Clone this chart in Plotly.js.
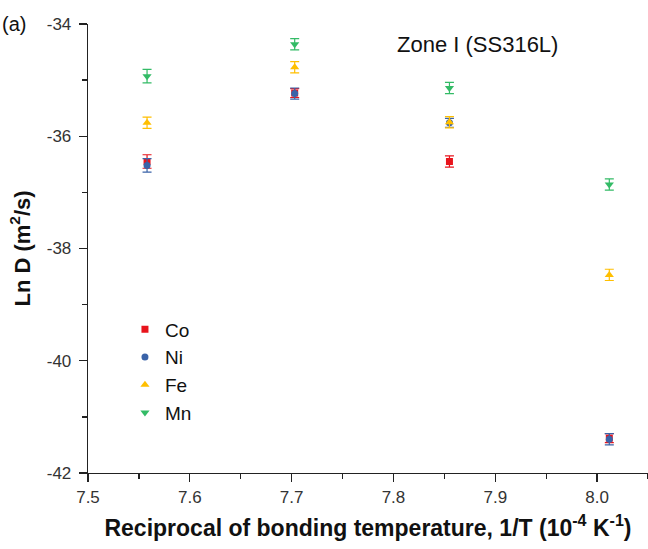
<!DOCTYPE html>
<html>
<head>
<meta charset="utf-8">
<script src="https://cdn.plot.ly/plotly-3.0.1.min.js"></script>
<style>html,body{margin:0;padding:0;background:#fff;}#chart{width:648px;height:549px;}</style>
</head>
<body>
<div id="chart"></div>
<script>
// Reciprocal of bonding temperature (10^-4 K^-1)
const invT = [7.558, 7.703, 7.855, 8.012];
// Ln D (m^2/s)
const coLnD = [-36.45, -35.23, -36.45, -41.38];
const coErr = [0.12, 0.08, 0.1, 0.08];
const niLnD = [-36.52, -35.24, -35.76, -41.40];
const niErr = [0.12, 0.1, 0.08, 0.1];
const feLnD = [-35.76, -34.77, -35.75, -38.47];
const feErr = [0.1, 0.1, 0.1, 0.1];
const mnLnD = [-34.93, -34.36, -35.14, -36.86];
const mnErr = [0.12, 0.1, 0.1, 0.1];
const seriesNames = ["Co", "Ni", "Fe", "Mn"];
const xTickVals = [7.5, 7.6, 7.7, 7.8, 7.9, 8.0];
const xTickText = ["7.5", "7.6", "7.7", "7.8", "7.9", "8.0"];
const yTickVals = [-42, -40, -38, -36, -34];
const yTickText = ["-42", "-40", "-38", "-36", "-34"];

const FONT = "Liberation Sans, Arial, sans-serif";
function tr(name, y, err, color, symbol, size) {
  return {
    type: "scatter", mode: "markers", name: name, x: invT, y: y,
    marker: {color: color, symbol: symbol, size: size, line: {width: 0}},
    error_y: {type: "data", array: err, visible: true, color: color, thickness: 1.2, width: 4.5}
  };
}
const data = [
  tr(seriesNames[0], coLnD, coErr, "#e8141c", "square", 7),
  tr(seriesNames[1], niLnD, niErr, "#3a63a8", "circle", 7),
  tr(seriesNames[2], feLnD, feErr, "#ffbf00", "triangle-up", 8),
  tr(seriesNames[3], mnLnD, mnErr, "#33bb66", "triangle-down", 8)
];
const layout = {
  width: 648, height: 549,
  margin: {l: 88, r: 0, t: 24, b: 76},
  paper_bgcolor: "#fff", plot_bgcolor: "#fff",
  font: {family: FONT, color: "#222"},
  showlegend: true,
  legend: {x: 0.066, y: 0.362, xanchor: "left", yanchor: "top",
           font: {family: FONT, size: 19, color: "#111"},
           bgcolor: "rgba(0,0,0,0)", tracegroupgap: 0, itemsizing: "trace"},
  xaxis: {
    range: [7.5, 8.05], showgrid: false, zeroline: false,
    showline: true, linecolor: "#222", linewidth: 1.3,
    ticks: "outside", ticklen: 8, tickwidth: 1.3, tickcolor: "#222",
    tickvals: xTickVals, ticktext: xTickText,
    tickfont: {family: FONT, size: 17, color: "#333"},
    minor: {dtick: 0.05, tick0: 7.5, ticks: "outside", ticklen: 5, tickwidth: 1.3, tickcolor: "#222", showgrid: false},
    title: {text: "<b>Reciprocal of bonding temperature, 1/T (10<sup>-4</sup> K<sup>-1</sup>)</b>",
            font: {family: FONT, size: 23, color: "#111"}, standoff: 14}
  },
  yaxis: {
    range: [-42, -34], showgrid: false, zeroline: false,
    showline: true, linecolor: "#222", linewidth: 1.3,
    ticks: "outside", ticklen: 8, tickwidth: 1.3, tickcolor: "#222",
    tickvals: yTickVals, ticktext: yTickText,
    tickfont: {family: FONT, size: 17, color: "#333"},
    ticklabelstandoff: 4,
    minor: {dtick: 1, tick0: -42, ticks: "outside", ticklen: 5, tickwidth: 1.3, tickcolor: "#222", showgrid: false},
    title: {text: "<b>Ln D (m<sup>2</sup>/s)</b>", font: {family: FONT, size: 22, color: "#111"}, standoff: 10}
  },
  annotations: [
    {text: "Zone I (SS316L)", xref: "paper", yref: "paper", x: 0.548, y: 0.955,
     xanchor: "left", yanchor: "middle", showarrow: false,
     font: {family: FONT, size: 22, color: "#111"}},
    {text: "(a)", xref: "paper", yref: "paper", x: -0.157, y: 1.0,
     xanchor: "left", yanchor: "middle", showarrow: false,
     font: {family: FONT, size: 20, color: "#111"}}
  ]
};
Plotly.newPlot("chart", data, layout, {displayModeBar: false, staticPlot: true});
</script>
</body>
</html>
